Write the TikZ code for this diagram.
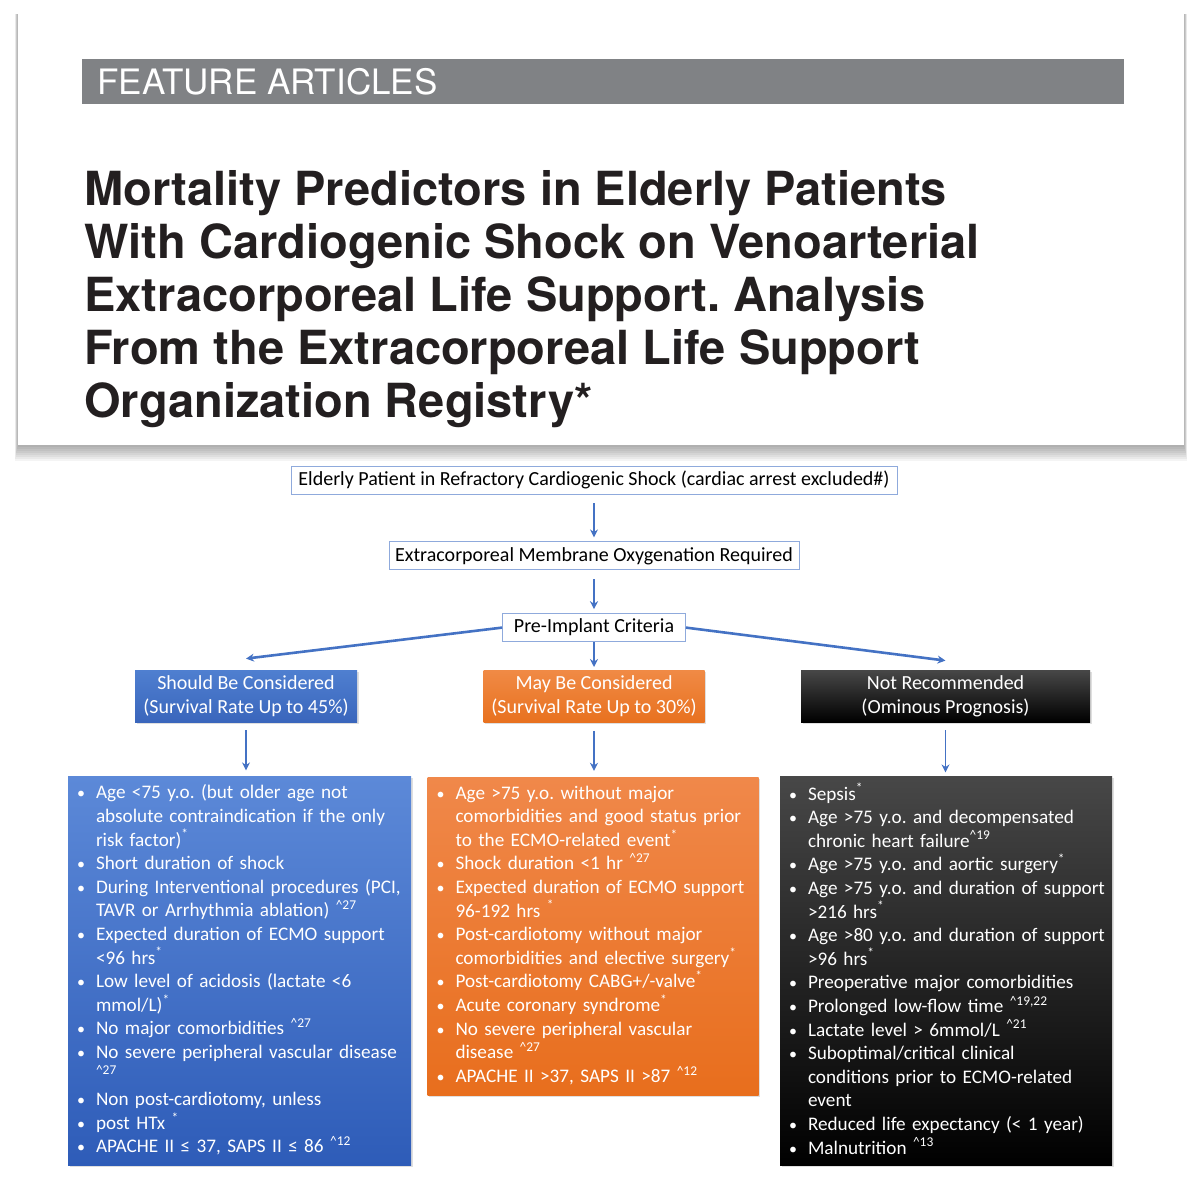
\documentclass[tikz,border=0pt]{standalone}
\usepackage{fontspec}
\setmainfont{Carlito}
\newfontfamily\herosfont{TeX Gyre Heros}
\usetikzlibrary{arrows.meta,positioning,shadows}
\definecolor{ecmoblue}{HTML}{4472C4}
\definecolor{boxline}{HTML}{8FAADC}
\definecolor{bargray}{HTML}{808285}
\definecolor{titleink}{HTML}{231F20}
\frenchspacing
\newcommand{\rf}[1]{\textsuperscript{\textasciicircum#1}}
\newcommand{\st}{\textsuperscript{*}}
\newenvironment{critlist}{\vspace*{-6pt}\begin{list}{\makebox[0pt][l]{\footnotesize\textbullet}}{%
    \setlength{\leftmargin}{9.5pt}\setlength{\labelsep}{9.5pt}%
    \setlength{\labelwidth}{0pt}\setlength{\rightmargin}{-30pt}%
    \setlength{\itemsep}{0pt}\setlength{\parsep}{0pt}%
    \setlength{\topsep}{0pt}\setlength{\partopsep}{0pt}}}{\end{list}}
\tikzset{
    flowbox/.style={draw=boxline, fill=white, font=\fontsize{10}{12}\selectfont,
        minimum height=14pt, inner xsep=3pt, inner ysep=0pt},
    catbox/.style={text=white, align=center, font=\fontsize{10}{12}\selectfont,
        minimum height=26pt, inner sep=0pt,
        drop shadow={opacity=0.25, shadow xshift=0.8pt, shadow yshift=-0.8pt}},
    listbox/.style={text=white, anchor=north, inner xsep=4.5pt, inner ysep=0pt,
        font=\fontsize{9.6}{11.8}\selectfont,
        drop shadow={opacity=0.25, shadow xshift=0.8pt, shadow yshift=-0.8pt}},
    flowarrow/.style={-{Stealth[length=4pt,width=4pt]}, ecmoblue, line width=0.9pt}
}

\begin{document}
\begin{tikzpicture}[x=0.5pt, y=-0.5pt]
\useasboundingbox[fill=white] (0,0) rectangle (1200,1188);
% article card
\foreach \k in {1,...,8}
    \fill[black, opacity=0.045] (18-0.4*\k,14) rectangle (1184+0.4*\k,445+2*\k);
\fill[white] (18,10) rectangle (1184,445);
\fill[bargray] (82,59) rectangle (1124,104);
\node[anchor=west, inner sep=0pt, text=white,
    font=\herosfont\fontsize{17.5}{20}\selectfont] (section) at (97,82) {FEATURE ARTICLES};
\node[anchor=north west, inner sep=0pt, align=left, text=titleink,
    font=\herosfont\bfseries\fontsize{23.5}{26.5}\selectfont] (title) at (84,170)
    {Mortality Predictors in Elderly Patients\\
     With Cardiogenic Shock on Venoarterial\\
     Extracorporeal Life Support. Analysis\\
     From the Extracorporeal Life Support\\
     Organization Registry*};

% flow chart
\node[flowbox, minimum width=303pt] (arrest) at (594,480)
    {Elderly Patient in Refractory Cardiogenic Shock (cardiac arrest excluded\#)};
\node[flowbox, minimum width=205pt, below=23.5pt of arrest] (ecmo)
    {Extracorporeal Membrane Oxygenation Required};
\node[flowbox, minimum width=91.5pt, below=21.5pt of ecmo] (criteria) {Pre-Implant Criteria};

\node[catbox, minimum width=110.5pt, below=14pt of criteria,
    top color={rgb,255:red,240;green,138;blue,69}, bottom color={rgb,255:red,232;green,113;blue,31}] (may)
    {May Be Considered\\(Survival Rate Up to 30\%)};
\node[catbox, minimum width=111pt,
    top color={rgb,255:red,79;green,127;blue,208}, bottom color={rgb,255:red,58;green,102;blue,188}] (should)
    at (246,696) {Should Be Considered\\(Survival Rate Up to 45\%)};
\node[catbox, minimum width=144.5pt, top color=black!72, bottom color=black] (notrec)
    at (945.5,696) {Not Recommended\\(Ominous Prognosis)};

\node[listbox, text width=162.5pt, minimum height=194.5pt, below=27pt of should, xshift=-3.25pt,
    top color={rgb,255:red,92;green,137;blue,216}, bottom color={rgb,255:red,46;green,92;blue,184}] (shouldlist)
{\begin{critlist}
\item Age <75 y.o. (but older age not\\absolute contraindication if the only\\risk factor)\st
\item Short duration of shock
\item During Interventional procedures (PCI,\\TAVR or Arrhythmia ablation) \rf{27}
\item Expected duration of ECMO support\\<96 hrs\st
\item Low level of acidosis (lactate <6\\mmol/L)\st
\item No major comorbidities \rf{27}
\item No severe peripheral vascular disease\\\rf{27}
\item Non post-cardiotomy, unless
\item post HTx \st
\item APACHE II ≤ 37, SAPS II ≤ 86 \rf{12}
\end{critlist}};

\node[listbox, text width=156.5pt, minimum height=159pt, below=27pt of may, xshift=-0.5pt,
    top color={rgb,255:red,240;green,136;blue,74}, bottom color={rgb,255:red,232;green,110;blue,29}] (maylist)
{\begin{critlist}
\item Age >75 y.o. without major\\comorbidities and good status prior\\to the ECMO-related event\st
\item Shock duration <1 hr \rf{27}
\item Expected duration of ECMO support\\96-192 hrs \st
\item Post-cardiotomy without major\\comorbidities and elective surgery\st
\item Post-cardiotomy CABG+/-valve\st
\item Acute coronary syndrome\st
\item No severe peripheral vascular\\disease \rf{27}
\item APACHE II >37, SAPS II >87 \rf{12}
\end{critlist}};

\node[listbox, text width=157pt, minimum height=194.5pt, below=27pt of notrec, xshift=0.25pt,
    top color=black!72, middle color=black, bottom color=black] (notreclist)
{\begin{critlist}
\item Sepsis\st
\item Age >75 y.o. and decompensated\\chronic heart failure\rf{19}
\item Age >75 y.o. and aortic surgery\st
\item Age >75 y.o. and duration of support\\>216 hrs\st
\item Age >80 y.o. and duration of support\\>96 hrs\st
\item Preoperative major comorbidities
\item Prolonged low-flow time \rf{19,22}
\item Lactate level > 6mmol/L \rf{21}
\item Suboptimal/critical clinical\\conditions prior to ECMO-related\\event
\item Reduced life expectancy (< 1 year)
\item Malnutrition \rf{13}
\end{critlist}};

\draw[flowarrow, shorten <=4.5pt, shorten >=2pt] (arrest) -- (ecmo);
\draw[flowarrow, shorten <=4.5pt, shorten >=2pt] (ecmo) -- (criteria);
\draw[flowarrow, line width=1.3pt] (criteria.west) -- ([yshift=5.5pt]should.north);
\draw[flowarrow, line width=1.3pt] (criteria.east) -- ([yshift=4.5pt]notrec.north);
\draw[flowarrow, shorten >=1.5pt] (criteria) -- (may);
\draw[flowarrow, shorten <=4pt, shorten >=3pt] (should.south) -- (should.south |- shouldlist.north);
\draw[flowarrow, shorten <=4pt, shorten >=3pt] (may.south) -- (may.south |- maylist.north);
\draw[flowarrow, shorten <=4pt, shorten >=2pt] (notrec.south) -- (notrec.south |- notreclist.north);
\end{tikzpicture}
\end{document}
